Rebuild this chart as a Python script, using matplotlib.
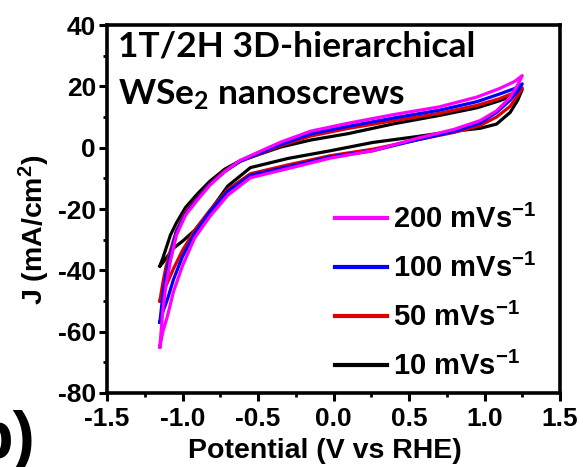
import matplotlib
matplotlib.use("Agg")
import matplotlib.pyplot as plt
from matplotlib.ticker import MultipleLocator

plt.rcParams['font.family'] = ['Liberation Sans', 'DejaVu Sans']
plt.rcParams['font.weight'] = 'bold'
plt.rcParams['mathtext.default'] = 'regular'

# Forward scan potentials (V vs RHE)
v_fwd = [-1.15, -1.13, -1.11, -1.08, -1.04, -0.98, -0.90, -0.82, -0.72, -0.62,
         -0.50, -0.35, -0.15, 0.10, 0.40, 0.70, 0.95, 1.10, 1.20, 1.25]
# Reverse scan potentials
v_rev = [1.25, 1.22, 1.17, 1.08, 0.97, 0.80, 0.55, 0.26, -0.02, -0.30,
         -0.55, -0.70, -0.82, -0.92, -1.00, -1.06, -1.10, -1.13, -1.15]

j200_fwd = [-65, -53, -45, -37, -28.5, -22, -17, -12.3, -7.8, -4.2,
            -1.5, 1.8, 5.4, 8.0, 10.8, 13.3, 16.5, 19.3, 21.6, 23.5]
j200_rev = [23.5, 20.5, 16.4, 12.0, 8.8, 6.0, 3.0, -1.0, -3.4, -6.8,
            -9.8, -15.5, -22.5, -29.5, -38.5, -47, -55, -60, -65]

j100_fwd = [-57, -48, -41.5, -35, -27.5, -21.5, -16.6, -12, -7.8, -4.5,
            -2.0, 1.0, 4.5, 7.0, 9.7, 12.2, 15.0, 17.5, 19.3, 20.8]
j100_rev = [20.8, 18.5, 15.5, 11.5, 8.0, 5.3, 2.5, -1.0, -3.0, -6.2,
            -9.0, -14.2, -21, -28, -35.5, -43, -49.5, -53.5, -57]

j50_fwd = [-50, -44, -39, -33.5, -27, -21, -16.3, -11.8, -7.6, -4.5,
           -2.2, 0.6, 3.8, 6.3, 8.8, 11.2, 13.8, 16.0, 18.0, 19.5]
j50_rev = [19.5, 17.0, 13.5, 10.0, 7.2, 5.0, 2.5, -0.5, -2.6, -5.6,
           -8.5, -13.6, -20.5, -27, -33.5, -39.5, -44, -47.5, -50]

j10_fwd = [-38.6, -36, -33, -28.5, -24.5, -19.5, -15, -11, -7.0, -4.3,
           -2.3, 0.2, 2.5, 4.6, 7.8, 10.5, 13.0, 15.3, 17.3, 19.0]
j10_rev = [19.0, 15.5, 11.5, 7.7, 6.3, 5.4, 3.6, 1.7, -1.0, -3.5,
           -6.5, -12.5, -20.8, -27, -30.5, -32.8, -35.5, -37.5, -38.6]

labels = ['200 mVs$^{-1}$', '100 mVs$^{-1}$', '50 mVs$^{-1}$', '10 mVs$^{-1}$']
colors = ['#FF00FF', '#0000FF', '#E00000', '#000000']
series = [(j200_fwd, j200_rev), (j100_fwd, j100_rev), (j50_fwd, j50_rev), (j10_fwd, j10_rev)]

xtick_vals = [-1.5, -1.0, -0.5, 0.0, 0.5, 1.0, 1.5]
xtick_text = ['-1.5', '-1.0', '-0.5', '0.0', '0.5', '1.0', '1.5']
ytick_vals = [40, 20, 0, -20, -40, -60, -80]
ytick_text = ['40', '20', '0', '-20', '-40', '-60', '-80']

fig = plt.figure(figsize=(5.83, 4.67), dpi=100)
ax = fig.add_axes([107/583, 1-393/467, (560-107)/583, (393-25)/467])

handles = [None]*4
for idx in [3, 2, 1, 0]:
    jf, jr = series[idx]
    ln, = ax.plot(v_fwd + v_rev, jf + jr, color=colors[idx], lw=2.3,
                  solid_joinstyle='round', label=labels[idx])
    handles[idx] = ln

ax.set_xlim(-1.5, 1.5)
ax.set_ylim(-80, 40)
ax.xaxis.set_minor_locator(MultipleLocator(0.25))
ax.yaxis.set_minor_locator(MultipleLocator(10))
ax.set_xticks(xtick_vals)
ax.set_xticklabels(xtick_text)
ax.set_yticks(ytick_vals)
ax.set_yticklabels(ytick_text)
ax.tick_params(which='major', direction='out', length=5.5, width=2.2,
               labelsize=19)
ax.tick_params(axis='x', which='major', pad=4.5)
ax.tick_params(axis='y', which='major', pad=2.5)
ax.tick_params(which='minor', direction='out', length=3, width=2.0)
for sp in ax.spines.values():
    sp.set_linewidth(2.6)

ax.set_xlabel('Potential (V vs RHE)', fontsize=20.5, fontweight='bold')
ax.xaxis.set_label_coords(325/583, 1-458/467, transform=fig.transFigure)
ax.xaxis.label.set_va('baseline')
ax.set_ylabel('J (mA/cm$^2$)', fontsize=20.5, fontweight='bold')
ax.yaxis.set_label_coords(34/583, 1-230/467, transform=fig.transFigure)
ax.yaxis.label.set_va('center')

leg = ax.legend(handles=handles, loc='upper left',
                bbox_to_anchor=(335/583, 1-205/467), bbox_transform=fig.transFigure,
                frameon=False, fontsize=21, handlelength=1.78, handletextpad=0.2,
                labelspacing=0.68, borderpad=0, borderaxespad=0)
for lh in leg.get_lines():
    lh.set_linewidth(3)

fig.text(118/583, 1-57/467, '1T/2H 3D-hierarchical', family=['Lato', 'DejaVu Sans'],
         fontweight='bold', fontsize=25.5, ha='left', va='baseline')
fig.text(118/583, 1-105/467, 'WSe$_2$ nanoscrews', family=['Lato', 'DejaVu Sans'],
         fontweight='bold', fontsize=25.5, ha='left', va='baseline')

fig.text(36/583, 1-458/467, 'b)', fontsize=48, fontweight='bold', ha='right', va='baseline')

fig.savefig('out.png', dpi=100)
